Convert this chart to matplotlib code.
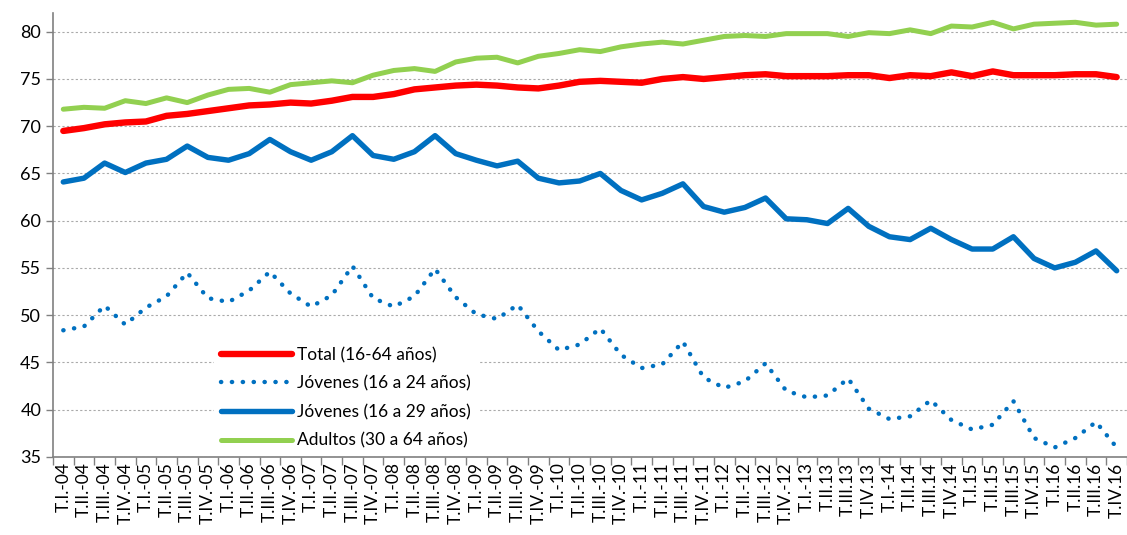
import numpy as np
import matplotlib
matplotlib.use("Agg")
import matplotlib.pyplot as plt

plt.rcParams["font.family"] = ["Lato", "DejaVu Sans"]

# ── data (tasas de actividad, %) ─────────────────────────────────
quarters = [
    "T.I.-04", "T.II.-04", "T.III.-04", "T.IV.-04",
    "T.I.-05", "T.II.-05", "T.III.-05", "T.IV.-05",
    "T.I.-06", "T.II.-06", "T.III.-06", "T.IV.-06",
    "T.I.-07", "T.II.-07", "T.III.-07", "T.IV.-07",
    "T.I.-08", "T.II.-08", "T.III.-08", "T.IV.-08",
    "T.I.-09", "T.II.-09", "T.III.-09", "T.IV.-09",
    "T.I.-10", "T.II.-10", "T.III.-10", "T.IV.-10",
    "T.I.-11", "T.II.-11", "T.III.-11", "T.IV.-11",
    "T.I.-12", "T.II.-12", "T.III.-12", "T.IV.-12",
    "T.I.-13", "T.II.13", "T.III.13", "T.IV.13",
    "T.I.-14", "T.II.14", "T.III.14", "T.IV.14",
    "T.I.15", "T.II.15", "T.III.15", "T.IV.15",
    "T.I.16", "T.II.16", "T.III.16", "T.IV.16",
]

total_16_64 = [69.5, 69.8, 70.2, 70.4, 70.5, 71.1, 71.3, 71.6, 71.9, 72.2, 72.3, 72.5, 72.4,
               72.7, 73.1, 73.1, 73.4, 73.9, 74.1, 74.3, 74.4, 74.3, 74.1, 74.0, 74.3, 74.7,
               74.8, 74.7, 74.6, 75.0, 75.2, 75.0, 75.2, 75.4, 75.5, 75.3, 75.3, 75.3, 75.4,
               75.4, 75.1, 75.4, 75.3, 75.7, 75.3, 75.8, 75.4, 75.4, 75.4, 75.5, 75.5, 75.2]

jovenes_16_24 = [48.4, 48.8, 51.0, 49.0, 50.8, 52.0, 54.5, 51.8, 51.4, 52.6, 54.6, 52.3, 50.9,
                 52.1, 55.2, 51.8, 50.9, 52.0, 54.9, 51.9, 50.1, 49.6, 51.1, 48.3, 46.3, 46.9,
                 48.6, 45.8, 44.4, 44.8, 47.2, 43.4, 42.3, 43.0, 44.9, 42.0, 41.3, 41.5, 43.3,
                 40.1, 39.0, 39.3, 41.0, 38.9, 37.9, 38.4, 40.9, 37.0, 36.0, 37.0, 38.7, 36.0]

jovenes_16_29 = [64.1, 64.5, 66.1, 65.1, 66.1, 66.5, 67.9, 66.7, 66.4, 67.1, 68.6, 67.3, 66.4,
                 67.3, 69.0, 66.9, 66.5, 67.3, 69.0, 67.1, 66.4, 65.8, 66.3, 64.5, 64.0, 64.2,
                 65.0, 63.2, 62.2, 62.9, 63.9, 61.5, 60.9, 61.4, 62.4, 60.2, 60.1, 59.7, 61.3,
                 59.4, 58.3, 58.0, 59.2, 58.0, 57.0, 57.0, 58.3, 56.0, 55.0, 55.6, 56.8, 54.7]

adultos_30_64 = [71.8, 72.0, 71.9, 72.7, 72.4, 73.0, 72.5, 73.3, 73.9, 74.0, 73.6, 74.4, 74.6,
                 74.8, 74.6, 75.4, 75.9, 76.1, 75.8, 76.8, 77.2, 77.3, 76.7, 77.4, 77.7, 78.1,
                 77.9, 78.4, 78.7, 78.9, 78.7, 79.1, 79.5, 79.6, 79.5, 79.8, 79.8, 79.8, 79.5,
                 79.9, 79.8, 80.2, 79.8, 80.6, 80.5, 81.0, 80.3, 80.8, 80.9, 81.0, 80.7, 80.8]

RED = "#FF0000"
BLUE = "#0070C0"
GREEN = "#92D050"

x = np.arange(len(quarters))

fig = plt.figure(figsize=(11.27, 5.35), dpi=100)
ax = fig.add_axes([0.047, 0.146, 0.953, 0.830])

ax.plot(x, total_16_64, color=RED, lw=4.6, solid_capstyle="round",
        solid_joinstyle="round", label="Total (16-64 años)", zorder=4)
ax.plot(x, jovenes_16_24, color=BLUE, lw=3.2, linestyle=(0, (0.05, 2.4)),
        dash_capstyle="round", label="Jóvenes (16 a 24 años)", zorder=3)
ax.plot(x, jovenes_16_29, color=BLUE, lw=3.9, solid_capstyle="round",
        solid_joinstyle="round", label="Jóvenes (16 a 29 años)", zorder=3)
ax.plot(x, adultos_30_64, color=GREEN, lw=3.6, solid_capstyle="round",
        solid_joinstyle="round", label="Adultos (30 a 64 años)", zorder=3)

ax.set_xlim(-0.5, len(quarters) - 0.5)
ax.set_ylim(35, 82)
ax.set_yticks(np.arange(35, 81, 5))
ax.yaxis.grid(True, color="#AAAAAA", linestyle=(0, (2, 2)), lw=0.8)
ax.set_axisbelow(True)

ax.set_xticks(x)
ax.set_xticklabels(quarters, rotation=90, fontsize=12.5)
ax.set_xticks(np.arange(-0.5, len(quarters), 1), minor=True)
ax.tick_params(axis="x", which="major", length=0, pad=4)
ax.tick_params(axis="x", which="minor", length=6, color="#808080", width=1)
ax.tick_params(axis="y", labelsize=13, length=5, color="#808080", width=1)

for side in ("top", "right"):
    ax.spines[side].set_visible(False)
for side in ("left", "bottom"):
    ax.spines[side].set_color("#808080")
    ax.spines[side].set_linewidth(1.2)

leg = ax.legend(loc="lower left", bbox_to_anchor=(0.142, -0.017), frameon=True,
                fontsize=12.5, handlelength=4.1, handletextpad=0.3,
                labelspacing=0.72, borderpad=0.4)
leg.get_frame().set_facecolor("white")
leg.get_frame().set_edgecolor("none")
leg.get_frame().set_alpha(1.0)

fig.savefig("out.png", dpi=100)
